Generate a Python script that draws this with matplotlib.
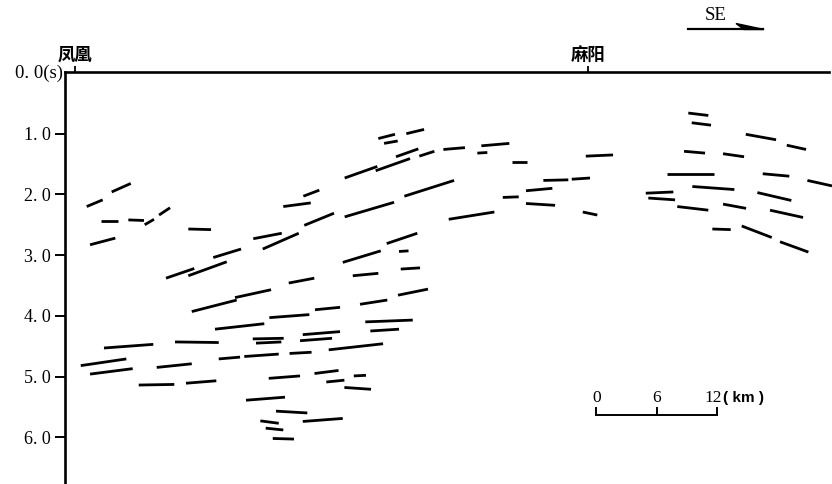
import matplotlib
matplotlib.use("Agg")
import matplotlib.pyplot as plt
from matplotlib.patches import Polygon
from matplotlib.lines import Line2D

# reflector segments: (x0 km, t0 s, x1 km, t1 s)
west_shallow = [
    (2.05, 2.20, 3.63, 2.09), (4.52, 1.96, 6.41, 1.82), (3.50, 2.44, 5.18, 2.44),
    (6.17, 2.42, 7.72, 2.43), (7.79, 2.50, 8.71, 2.41), (9.21, 2.34, 10.30, 2.22),
    (2.38, 2.83, 4.88, 2.72), (12.11, 2.57, 14.36, 2.58),
]
west_middle = [
    (23.50, 2.03, 25.08, 1.93), (21.51, 2.20, 24.23, 2.14), (23.59, 2.51, 26.53, 2.31),
    (18.54, 2.73, 21.36, 2.64), (19.48, 2.90, 23.04, 2.64), (14.58, 3.04, 17.33, 2.90),
    (9.90, 3.38, 12.70, 3.22), (12.11, 3.34, 15.91, 3.11), (22.05, 3.46, 24.58, 3.38),
    (12.45, 3.93, 16.90, 3.74), (16.73, 3.70, 20.30, 3.57), (20.13, 4.03, 24.09, 3.98),
    (24.65, 3.90, 27.13, 3.86), (14.75, 4.22, 19.63, 4.13),
]
crest = [
    (30.92, 1.08, 32.57, 1.01), (31.49, 1.16, 32.84, 1.12), (33.69, 1.00, 35.45, 0.93),
    (32.67, 1.38, 34.88, 1.25), (34.98, 1.37, 36.47, 1.29), (37.36, 1.26, 39.50, 1.23),
    (41.12, 1.20, 43.89, 1.16), (40.72, 1.32, 41.71, 1.31), (44.13, 1.47, 45.67, 1.47),
    (27.59, 1.73, 30.82, 1.54), (30.66, 1.61, 34.06, 1.41), (33.50, 2.03, 38.42, 1.77),
    (27.59, 2.37, 32.48, 2.13), (47.26, 1.77, 49.73, 1.76), (45.54, 1.94, 48.15, 1.90),
    (43.24, 2.05, 44.82, 2.04), (45.54, 2.15, 48.42, 2.18), (37.89, 2.41, 42.41, 2.29),
    (31.75, 2.81, 34.78, 2.64), (32.97, 2.94, 33.91, 2.93), (27.40, 3.12, 31.16, 2.93),
    (33.14, 3.23, 35.05, 3.21), (28.39, 3.34, 30.92, 3.30), (32.87, 3.66, 35.84, 3.56),
    (29.11, 3.81, 31.81, 3.74), (29.63, 4.10, 34.33, 4.07), (30.13, 4.25, 32.97, 4.22),
]
east = [
    (61.61, 0.66, 63.59, 0.70), (61.95, 0.82, 63.86, 0.86), (67.30, 1.01, 70.30, 1.10),
    (71.36, 1.19, 73.27, 1.26), (51.46, 1.37, 54.16, 1.35), (61.19, 1.29, 63.27, 1.32),
    (65.05, 1.33, 67.13, 1.38), (59.53, 1.66, 64.16, 1.66), (68.98, 1.66, 71.61, 1.70),
    (73.40, 1.77, 75.84, 1.86), (50.07, 1.75, 51.88, 1.73), (62.01, 1.87, 66.17, 1.92),
    (68.45, 1.97, 71.81, 2.10), (57.40, 1.98, 60.13, 1.96), (57.65, 2.06, 60.30, 2.09),
    (60.52, 2.20, 63.59, 2.26), (65.05, 2.16, 67.33, 2.23), (69.70, 2.26, 72.97, 2.38),
    (51.16, 2.29, 52.60, 2.34), (63.99, 2.57, 65.81, 2.58), (66.90, 2.52, 69.87, 2.71),
    (70.69, 2.78, 73.50, 2.95),
]
deep = [
    (3.76, 4.53, 8.64, 4.47), (10.79, 4.43, 15.12, 4.44), (18.49, 4.38, 21.55, 4.37),
    (18.81, 4.45, 21.32, 4.43), (23.44, 4.31, 27.13, 4.26), (23.17, 4.41, 26.34, 4.37),
    (1.46, 4.82, 5.97, 4.71), (2.38, 4.96, 6.60, 4.87), (8.98, 4.85, 12.45, 4.79),
    (15.12, 4.71, 17.23, 4.68), (17.65, 4.67, 21.06, 4.63), (22.13, 4.62, 24.31, 4.60),
    (26.01, 4.56, 31.39, 4.46), (7.20, 5.14, 10.72, 5.13), (11.88, 5.11, 14.88, 5.07),
    (20.07, 5.03, 23.17, 4.99), (24.60, 4.95, 26.98, 4.90), (25.77, 5.09, 27.56, 5.06),
    (17.82, 5.39, 21.68, 5.34), (20.79, 5.57, 23.89, 5.60), (23.44, 5.74, 27.40, 5.69),
    (19.24, 5.73, 21.06, 5.77), (19.77, 5.85, 21.51, 5.88), (20.47, 6.02, 22.57, 6.03),
    (28.49, 4.99, 29.70, 4.98), (27.56, 5.18, 30.20, 5.21),
]

time_ticks = [1, 2, 3, 4, 5, 6]
time_labels = ["1. 0", "2. 0", "3. 0", "4. 0", "5. 0", "6. 0"]
place_km = [0.87, 51.7]
place_names = ["凤凰", "麻阳"]
scale_origin = 52.5
scale_ticks = [0, 6, 12]

serif = "Liberation Serif"
cjk = ["Noto Sans CJK SC", "DejaVu Sans"]

fig = plt.figure(figsize=(8.32, 4.84), dpi=100)
ax = fig.add_axes([64.5 / 832, 0, (829 - 64.5) / 832, 412 / 484])
ax.set_xlim(-0.15, 75.54)
ax.set_ylim(6.77, -0.016)

for group in [west_shallow, west_middle, crest, east, deep]:
    for x0, t0, x1, t1 in group:
        ax.plot([x0, x1], [t0, t1], color="black", lw=2.0,
                solid_capstyle="butt", clip_on=False)

for side in ["right", "bottom"]:
    ax.spines[side].set_visible(False)
ax.spines["left"].set_linewidth(1.9)
ax.spines["top"].set_linewidth(1.9)

ax.set_yticks(time_ticks)
ax.set_yticklabels(time_labels, fontfamily=serif, fontsize=13)
ax.tick_params(axis="y", direction="out", length=7.5, width=1.4, pad=2.5)

ax.xaxis.set_ticks_position("top")
ax.set_xticks(place_km)
ax.set_xticklabels(place_names, fontfamily=cjk, fontsize=12.5, fontweight="bold")
ax.tick_params(axis="x", direction="out", length=4.5, width=1.3, pad=1.5)

ax.text(-0.25, 0.0, "0. 0(s)", fontfamily=serif, fontsize=13.5,
        ha="right", va="center", clip_on=False)

# scale bar
sx = [scale_origin + v for v in scale_ticks]
ax.plot([sx[0], sx[-1]], [5.63, 5.63], color="black", lw=1.4)
for xv, lab in zip(sx, scale_ticks):
    ax.plot([xv, xv], [5.63, 5.52], color="black", lw=1.4)
    ax.text(xv if lab != 12 else xv - 0.45, 5.35, str(lab), fontfamily=serif,
            fontsize=12.5, ha="center", va="center")
ax.text(sx[-1] + 0.5, 5.35, "( km )", fontfamily="Liberation Sans",
        fontsize=11, fontweight="bold", ha="left", va="center")

# direction arrow
fig.add_artist(Line2D([688 / 832, 763 / 832], [1 - 29 / 484, 1 - 29 / 484],
                      color="black", lw=1.6, transform=fig.transFigure))
fig.add_artist(Polygon([[736 / 832, 1 - 23.5 / 484], [764 / 832, 1 - 29.5 / 484],
                        [744 / 832, 1 - 29.5 / 484]], closed=True,
                       color="black", transform=fig.transFigure))
fig.text(716 / 832, 1 - 16 / 484, "SE", fontfamily=serif, fontsize=13.5,
         ha="center", va="center")

fig.savefig("out.png", dpi=100)
